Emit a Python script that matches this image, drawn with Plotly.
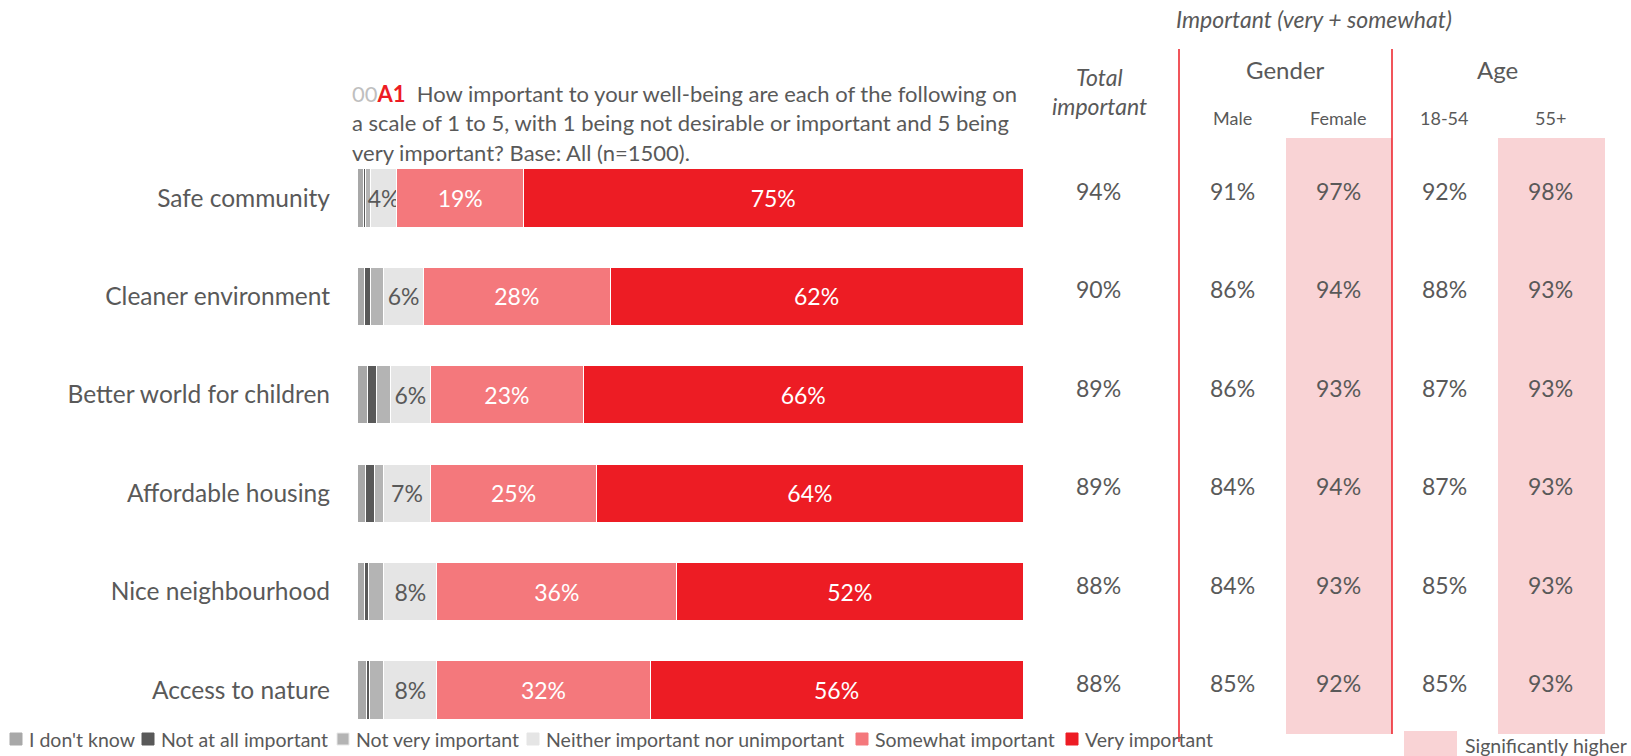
import plotly.graph_objects as go

W, H = 1631, 756
FONT = "Lato"
GREY_TEXT = "#595959"
RED = "#ED1C24"
PINK_BG = "#F9D3D5"

categories = ["Safe community", "Cleaner environment", "Better world for children",
              "Affordable housing", "Nice neighbourhood", "Access to nature"]

# Share of answers per scale point (%)
dont_know = [1.0, 1.1, 1.6, 1.3, 1.2, 1.5]
not_at_all = [0.3, 1.0, 1.4, 1.3, 0.6, 0.4]
not_very = [0.7, 1.9, 2.0, 1.4, 2.2, 2.1]
neither = [4, 6, 6, 7, 8, 8]
somewhat = [19, 28, 23, 25, 36, 32]
very = [75, 62, 66, 64, 52, 56]

# Important (very + somewhat) by group (%)
total_important = [94, 90, 89, 89, 88, 88]
male = [91, 86, 86, 84, 84, 85]
female = [97, 94, 93, 94, 93, 92]
age_18_54 = [92, 88, 87, 87, 85, 85]
age_55_plus = [98, 93, 93, 93, 93, 93]

series = [
    ("I don't know", dont_know, "#A8A8A8", False, None),
    ("Not at all important", not_at_all, "#595959", False, None),
    ("Not very important", not_very, "#B4B4B4", False, None),
    ("Neither important nor unimportant", neither, "#E5E5E5", True, GREY_TEXT),
    ("Somewhat important", somewhat, "#F4787C", True, "white"),
    ("Very important", very, RED, True, "white"),
]


def px(x):
    return x / W


def py(y):
    return 1 - y / H


fig = go.Figure()
for name, vals, color, labelled, tcolor in series:
    fig.add_trace(go.Bar(
        y=categories, x=vals, name=name, orientation="h",
        marker=dict(color=color, line=dict(color="white", width=1)),
        text=[f"{v:.0f}%" for v in vals] if labelled else None,
        textposition="inside" if labelled else "none",
        insidetextanchor="middle", textangle=0,
        textfont=dict(family=FONT, size=23, color=tcolor or "white"),
        showlegend=False,
        hoverinfo="x+name",
    ))

annotations = []
shapes = []


def note(text, x, y, size, xanchor="center", **extra):
    annotations.append(dict(text=text, xref="paper", yref="paper", x=px(x), y=py(y),
                            xanchor=xanchor, yanchor="middle", showarrow=False,
                            font=dict(family=FONT, size=size, color=GREY_TEXT), **extra))


# Question text
title_lines = [
    "<span style='color:#BFBFBF'>00</span><b><span style='color:#ED1C24'>A1</span></b>"
    "  How important to your well-being are each of the following on",
    "a scale of 1 to 5, with 1 being not desirable or important and 5 being",
    "very important? Base: All (n=1500).",
]
for i, line in enumerate(title_lines):
    note(line, 350, 94 + 29 * i, 22, xanchor="left", align="left")

# Significance shading behind Female and 55+ columns
for x0, x1 in [(1286, 1392), (1498, 1605)]:
    shapes.append(dict(type="rect", xref="paper", yref="paper",
                       x0=px(x0), x1=px(x1), y0=py(734), y1=py(138),
                       fillcolor=PINK_BG, line=dict(width=0), layer="below"))

# Group separators
shapes.append(dict(type="line", xref="paper", yref="paper", x0=px(1179), x1=px(1179),
                   y0=py(49), y1=py(742), line=dict(color=RED, width=1.5)))
shapes.append(dict(type="line", xref="paper", yref="paper", x0=px(1392), x1=px(1392),
                   y0=py(49), y1=py(734), line=dict(color=RED, width=1.5)))

# Column headers
note("<i>Important (very + somewhat)</i>", 1314, 19, 23)
note("<i>Total</i>", 1099, 77, 23)
note("<i>important</i>", 1099, 106, 23)
note("Gender", 1285, 70, 24)
note("Age", 1497, 70, 24)

columns = [
    (None, 1098, total_important),
    ("Male", 1232, male),
    ("Female", 1338, female),
    ("18-54", 1444, age_18_54),
    ("55+", 1550, age_55_plus),
]
for label, cx, vals in columns:
    if label:
        note(label, cx, 118, 18)
    for cat, v in zip(categories, vals):
        annotations.append(dict(text=f"{v}%", xref="paper", yref="y", x=px(cx), y=cat,
                                xanchor="center", yanchor="middle", yshift=7, showarrow=False,
                                font=dict(family=FONT, size=23, color=GREY_TEXT)))

# Legend for answer scale
legend_items = [
    ("I don't know", "#A8A8A8", 10, 27),
    ("Not at all important", "#595959", 142, 159),
    ("Not very important", "#B4B4B4", 337, 354),
    ("Neither important nor unimportant", "#E5E5E5", 527, 544),
    ("Somewhat important", "#F4787C", 856, 873),
    ("Very important", RED, 1066, 1083),
]
for name, color, sx, tx in legend_items:
    shapes.append(dict(type="rect", xref="paper", yref="paper",
                       x0=px(sx), x1=px(sx + 12), y0=py(745), y1=py(733),
                       fillcolor=color,
                       line=dict(color="#E8E8E8" if color == "#B4B4B4" else color, width=1)))
    note(name, tx, 739, 19.5, xanchor="left")

# Significance key
shapes.append(dict(type="rect", xref="paper", yref="paper", x0=px(1404), x1=px(1457),
                   y0=py(760), y1=py(731), fillcolor=PINK_BG, line=dict(width=0)))
note("Significantly higher", 1463, 745, 19.5, xanchor="left")

fig.update_layout(
    width=W, height=H,
    margin=dict(l=0, r=0, t=0, b=0),
    paper_bgcolor="white", plot_bgcolor="white",
    barmode="stack", bargap=0.41,
    uniformtext=dict(minsize=23, mode="show"),
    xaxis=dict(domain=[px(357), px(1023)], range=[0, 100], visible=False, fixedrange=True),
    yaxis=dict(domain=[py(739.2), py(148.8)], autorange="reversed", showgrid=False,
               zeroline=False, showline=False, ticks="", ticklabelstandoff=26,
               tickfont=dict(family=FONT, size=24.5, color=GREY_TEXT)),
    shapes=shapes, annotations=annotations,
    showlegend=False,
)

fig.write_html("out.html")
